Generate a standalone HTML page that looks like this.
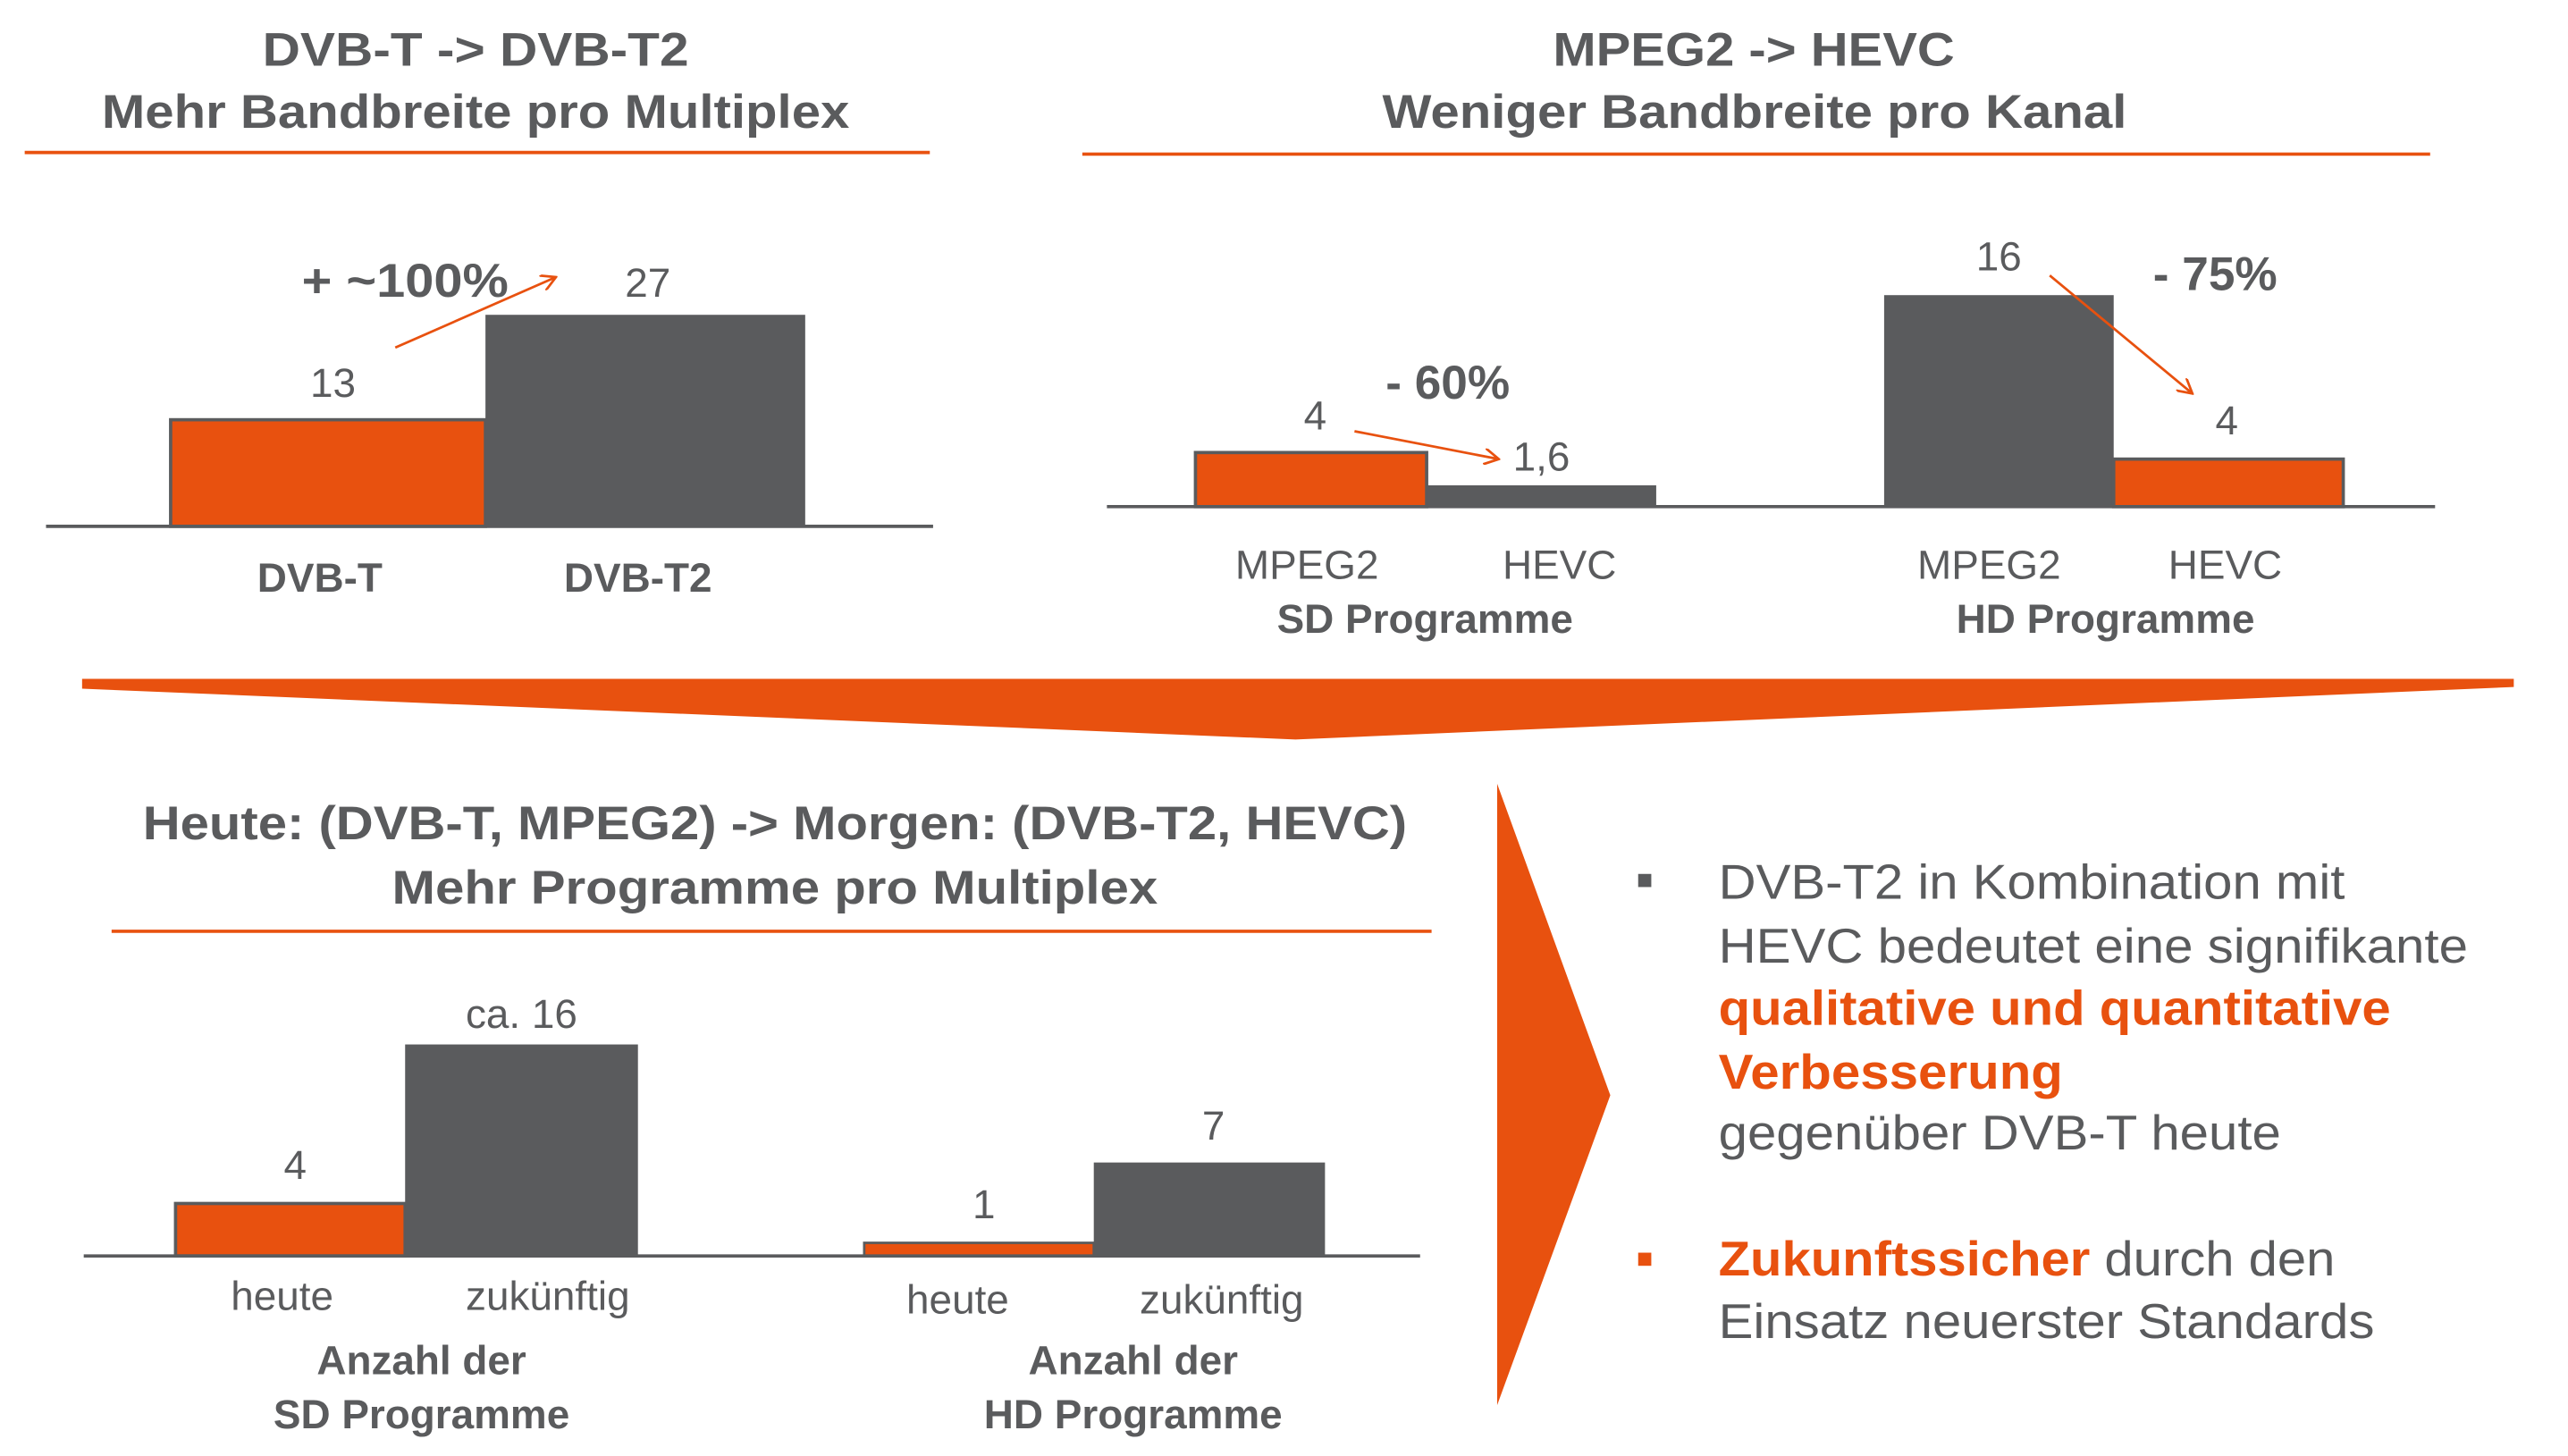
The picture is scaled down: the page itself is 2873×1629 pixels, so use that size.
<!DOCTYPE html>
<html><head><meta charset="utf-8"><style>
html,body{margin:0;padding:0;background:#fff;}
svg{display:block;}
text{font-family:"Liberation Sans",Arial,sans-serif;fill:#5a5b5d;}
.b{font-weight:bold;}
.o{fill:#e8510f;}
</style></head><body>
<svg width="2873" height="1629" viewBox="0 0 1566 888" xmlns="http://www.w3.org/2000/svg">
<defs><marker id="ar" markerWidth="10" markerHeight="10" refX="9" refY="5" orient="auto" markerUnits="userSpaceOnUse"><path d="M0,0 L9,5 L0,10" fill="none" stroke="#e8510f" stroke-width="1.5"/></marker></defs>

<!-- top-left -->
<text class="b" x="160" y="40" font-size="29" textLength="260" lengthAdjust="spacingAndGlyphs">DVB-T -&gt; DVB-T2</text>
<text class="b" x="62" y="78" font-size="29" textLength="456" lengthAdjust="spacingAndGlyphs">Mehr Bandbreite pro Multiplex</text>
<line x1="15" y1="93" x2="567" y2="93" stroke="#e8510f" stroke-width="2"/>
<rect x="104" y="256" width="192" height="65" fill="#e8510f" stroke="#5a5b5d" stroke-width="2"/>
<rect x="296" y="192" width="195" height="129" fill="#5a5b5d"/>
<line x1="28" y1="321" x2="569" y2="321" stroke="#5a5b5d" stroke-width="2"/>
<text x="203" y="242" font-size="25" text-anchor="middle">13</text>
<text x="395" y="181" font-size="25" text-anchor="middle">27</text>
<text class="b" x="184" y="181" font-size="29" textLength="126" lengthAdjust="spacingAndGlyphs">+ ~100%</text>
<line x1="241" y1="212" x2="339" y2="169" stroke="#e8510f" stroke-width="1.5" marker-end="url(#ar)"/>
<text class="b" x="195" y="361" font-size="25" text-anchor="middle">DVB-T</text>
<text class="b" x="389" y="361" font-size="25" text-anchor="middle">DVB-T2</text>

<!-- top-right -->
<text class="b" x="947" y="40" font-size="29" textLength="245" lengthAdjust="spacingAndGlyphs">MPEG2 -&gt; HEVC</text>
<text class="b" x="843" y="78" font-size="29" textLength="454" lengthAdjust="spacingAndGlyphs">Weniger Bandbreite pro Kanal</text>
<line x1="660" y1="94" x2="1482" y2="94" stroke="#e8510f" stroke-width="2"/>
<rect x="729" y="276" width="141" height="33" fill="#e8510f" stroke="#5a5b5d" stroke-width="2"/>
<rect x="870" y="296" width="140" height="13" fill="#5a5b5d"/>
<rect x="1149" y="180" width="140" height="129" fill="#5a5b5d"/>
<rect x="1289" y="280" width="140" height="29" fill="#e8510f" stroke="#5a5b5d" stroke-width="2"/>
<line x1="675" y1="309" x2="1485" y2="309" stroke="#5a5b5d" stroke-width="2"/>
<text x="802" y="262" font-size="25" text-anchor="middle">4</text>
<text x="940" y="287" font-size="25" text-anchor="middle">1,6</text>
<text class="b" x="845" y="243" font-size="29">- 60%</text>
<text x="1219" y="165" font-size="25" text-anchor="middle">16</text>
<text x="1358" y="265" font-size="25" text-anchor="middle">4</text>
<text class="b" x="1313" y="177" font-size="29">- 75%</text>
<line x1="826" y1="263" x2="914" y2="280" stroke="#e8510f" stroke-width="1.5" marker-end="url(#ar)"/>
<line x1="1250" y1="168" x2="1337" y2="240" stroke="#e8510f" stroke-width="1.5" marker-end="url(#ar)"/>
<text x="797" y="353" font-size="25" text-anchor="middle">MPEG2</text>
<text x="951" y="353" font-size="25" text-anchor="middle">HEVC</text>
<text x="1213" y="353" font-size="25" text-anchor="middle">MPEG2</text>
<text x="1357" y="353" font-size="25" text-anchor="middle">HEVC</text>
<text class="b" x="869" y="386" font-size="25" text-anchor="middle">SD Programme</text>
<text class="b" x="1284" y="386" font-size="25" text-anchor="middle">HD Programme</text>

<!-- band -->
<polygon points="50,414 1533,414 1533,419 790,451 50,420" fill="#e8510f"/>

<!-- bottom-left -->
<text class="b" x="87" y="512" font-size="29" textLength="771" lengthAdjust="spacingAndGlyphs">Heute: (DVB-T, MPEG2) -&gt; Morgen: (DVB-T2, HEVC)</text>
<text class="b" x="239" y="551" font-size="29" textLength="467" lengthAdjust="spacingAndGlyphs">Mehr Programme pro Multiplex</text>
<line x1="68" y1="568" x2="873" y2="568" stroke="#e8510f" stroke-width="2"/>
<rect x="107" y="734" width="140" height="32" fill="#e8510f" stroke="#5a5b5d" stroke-width="2"/>
<rect x="247" y="637" width="142" height="129" fill="#5a5b5d"/>
<rect x="527" y="758" width="140" height="8" fill="#e8510f" stroke="#5a5b5d" stroke-width="1.5"/>
<rect x="667" y="709" width="141" height="57" fill="#5a5b5d"/>
<line x1="51" y1="766" x2="866" y2="766" stroke="#5a5b5d" stroke-width="2"/>
<text x="180" y="719" font-size="25" text-anchor="middle">4</text>
<text x="318" y="627" font-size="25" text-anchor="middle">ca. 16</text>
<text x="600" y="743" font-size="25" text-anchor="middle">1</text>
<text x="740" y="695" font-size="25" text-anchor="middle">7</text>
<text x="172" y="799" font-size="25" text-anchor="middle">heute</text>
<text x="334" y="799" font-size="25" text-anchor="middle">zukünftig</text>
<text x="584" y="801" font-size="25" text-anchor="middle">heute</text>
<text x="745" y="801" font-size="25" text-anchor="middle">zukünftig</text>
<text class="b" x="257" y="838" font-size="25" text-anchor="middle">Anzahl der</text>
<text class="b" x="257" y="871" font-size="25" text-anchor="middle">SD Programme</text>
<text class="b" x="691" y="838" font-size="25" text-anchor="middle">Anzahl der</text>
<text class="b" x="691" y="871" font-size="25" text-anchor="middle">HD Programme</text>

<!-- chevron -->
<polygon points="913,478 982,668 913,857" fill="#e8510f"/>

<!-- bullets -->
<rect x="999" y="533" width="8" height="8" fill="#5a5b5d"/>
<text x="1048" y="548" font-size="30" textLength="382" lengthAdjust="spacingAndGlyphs">DVB-T2 in Kombination mit</text>
<text x="1048" y="587" font-size="30" textLength="457" lengthAdjust="spacingAndGlyphs">HEVC bedeutet eine signifikante</text>
<text class="b o" x="1048" y="625" font-size="30" textLength="410" lengthAdjust="spacingAndGlyphs">qualitative und quantitative</text>
<text class="b o" x="1048" y="664" font-size="30" textLength="210" lengthAdjust="spacingAndGlyphs">Verbesserung</text>
<text x="1048" y="701" font-size="30" textLength="343" lengthAdjust="spacingAndGlyphs">gegenüber DVB-T heute</text>
<rect x="999" y="764" width="8" height="8" fill="#e8510f"/>
<text x="1048" y="778" font-size="30" textLength="376" lengthAdjust="spacingAndGlyphs"><tspan class="b o">Zukunftssicher</tspan> durch den</text>
<text x="1048" y="816" font-size="30" textLength="400" lengthAdjust="spacingAndGlyphs">Einsatz neuerster Standards</text>
</svg>
</body></html>
